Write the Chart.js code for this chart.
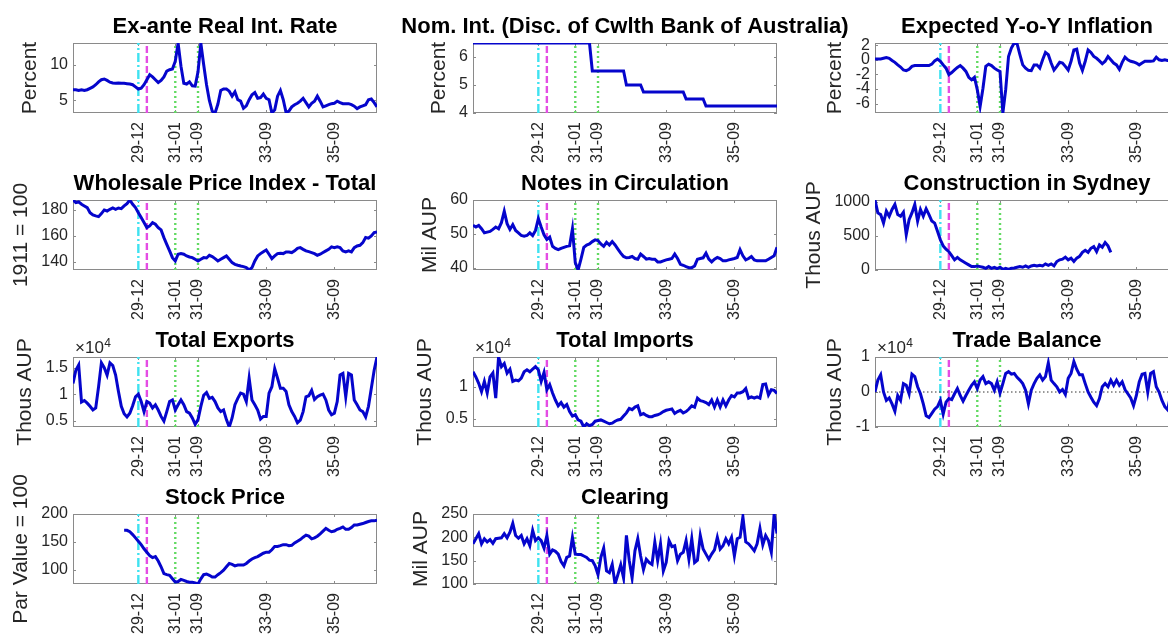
<!DOCTYPE html>
<html><head><meta charset="utf-8">
<script src="https://cdn.jsdelivr.net/npm/chart.js@4.4.0/dist/chart.umd.min.js"></script>
<style>
html,body{margin:0;padding:0;width:1168px;height:635px;overflow:hidden;background:#fff;position:relative}
canvas{position:absolute}
</style></head><body>
<script>
// ---- x axis (monthly, 1928-01 .. 1936-12, index 0..107) ----
const tickIdx = [23, 36, 44, 68, 92];
const tickLabels = ['29-12', '31-01', '31-09', '33-09', '35-09'];
const eventIdx = [23, 26, 36, 44];

// ---- series ----
const realRate = [6.5,6.5,6.4,6.5,6.4,6.5,6.7,6.9,7.2,7.6,7.9,8.0,
7.8,7.55,7.45,7.4,7.45,7.4,7.4,7.35,7.3,7.2,6.9,6.6,
6.7,7.2,7.9,8.6,8.3,7.9,7.5,7.8,8.3,9.1,9.3,9.4,
10.5,13.0,9.8,7.4,7.3,7.6,7.05,7.0,9.0,13.0,10.0,7.2,
5.0,3.5,3.24,4.5,6.4,6.6,6.6,6.3,5.6,6.2,5.1,4.9,
3.9,4.25,5.1,5.8,6.1,5.3,5.4,5.9,5.3,5.1,3.24,3.7,
5.6,6.4,5.1,3.3,3.5,4.1,4.4,4.6,4.9,5.3,4.7,4.1,
4.6,4.9,5.6,4.9,4.1,4.25,4.4,4.55,4.6,4.9,4.7,4.55,
4.55,4.55,4.4,4.2,3.85,4.1,4.25,4.4,5.1,5.2,4.7,4.1];

const nomRate = [6.5,6.5,6.5,6.5,6.5,6.5,6.5,6.5,6.5,6.5,6.5,6.5,
6.5,6.5,6.5,6.5,6.5,6.5,6.5,6.5,6.5,6.5,6.5,6.5,
6.5,6.5,6.5,6.5,6.5,6.5,6.5,6.5,6.5,6.5,6.5,6.5,
6.5,6.5,6.5,6.5,6.5,6.5,5.5,5.5,5.5,5.5,5.5,5.5,
5.5,5.5,5.5,5.5,5.5,5.5,5,5,5,5,5,5,
4.75,4.75,4.75,4.75,4.75,4.75,4.75,4.75,4.75,4.75,4.75,4.75,
4.75,4.75,4.75,4.5,4.5,4.5,4.5,4.5,4.5,4.5,4.25,4.25,
4.25,4.25,4.25,4.25,4.25,4.25,4.25,4.25,4.25,4.25,4.25,4.25,
4.25,4.25,4.25,4.25,4.25,4.25,4.25,4.25,4.25,4.25,4.25,4.25];

const expInfl = [0.1,0.1,0.1,0.2,0.3,0.2,-0.1,-0.35,-0.7,-1.0,-1.4,-1.5,
-1.3,-0.9,-0.8,-0.8,-0.8,-0.8,-0.8,-0.8,-0.6,-0.15,0.1,-0.2,
-0.7,-1.15,-2.05,-1.75,-1.4,-1.05,-0.8,-1.15,-1.6,-2.4,-2.75,-2.4,
-4.1,-6.4,-3.9,-0.9,-0.6,-0.8,-1.15,-1.4,-1.6,-7.3,-4.1,0.45,
1.6,2.3,2.2,0.7,-0.7,-1.15,-1.45,-1.5,-0.7,-0.7,-1.15,0,
1.0,0.7,-0.45,-1.4,-0.9,-0.35,-0.45,-0.9,-1.4,-0.2,1.35,1.45,
-0.45,-1.45,-0.2,1.35,1.0,0.45,0.2,-0.15,-0.55,-0.2,0.45,0,
-0.45,-0.7,-1.3,-0.35,0.35,0,-0.2,-0.3,-0.45,-0.7,-0.45,-0.2,
-0.2,-0.2,-0.15,0.35,0,-0.1,0,-0.1,-0.1,0,0.1,0];

const wpi = [187.7,185.7,186.2,184.4,183.1,181.8,177.9,176.1,175.4,174.8,177.2,180,
179.2,180.5,181.5,180.5,181.5,181,183.1,184.9,187.7,184.4,181.8,177.9,
174.1,170.2,166.3,167.6,170.2,168.9,166.3,164.5,158.6,153.4,148.3,143.1,
140.5,145.7,146.2,145.7,144.4,143.6,143.1,141.8,140.5,141.8,143.1,142.8,
144.9,143.9,142.3,140.5,141.8,143.1,144.4,141.8,139.2,137.9,137.2,136.6,
136.1,135.4,133.5,135.4,140.5,144.4,146.2,147.7,149,145.7,142.3,144.4,
146.2,146.5,146.2,147.5,147.5,147,148.3,150.3,150.8,149.5,148.3,147.7,
147,146.2,144.9,145.7,147,148.3,149.5,151.4,150.8,151.4,150.8,148.3,
147.5,148.3,147.5,150.8,152.1,152.6,154.7,158.6,158.1,159.9,162.5,163];

const notes = [52.5,52,52.5,51.5,50.3,50.5,50.7,51.3,52,51.5,53.3,56.7,
53,51.3,52.7,51,50.3,49.5,49.3,49.5,50.3,49.5,51,54.5,
52,49.7,48.3,49,46.3,45.7,45.3,45.7,46,46.3,46.5,51.5,
41.5,39.3,42.5,46,46.7,47,47.7,48.2,48,47,46.3,47.5,
46.7,47.7,46.7,45.5,44.3,43.3,42.9,43,43.3,42.7,42.5,44,
43.3,42.5,42.7,42.5,42.5,41.7,41.7,42,42.3,42.5,42.7,44,
42.7,41,40.7,40.3,40,40,40.5,42.5,42.7,42.9,44.3,42.5,
41.7,42.5,43,42.7,42,42,42.3,42.5,42.7,43,45.3,43.5,
42.3,42.7,43.3,42.3,42,42,42,42,42.5,43,43.5,46];

const construction = [1030,840,815,690,865,790,890,965,815,790,850,520,
740,840,965,720,890,790,900,815,720,690,570,445,
355,305,270,210,150,185,150,125,100,75,50,50,
60,50,40,25,50,25,40,20,40,10,25,10,
25,30,40,50,40,60,40,60,70,60,70,60,
90,70,90,60,125,150,160,190,150,175,125,175,
200,260,290,260,320,345,270,370,335,405,355,260,
null,null,null,null,null,null,null,null,null,null,null,null,
null,null,null,null,null,null,null,null,null,null,null,null];

const exportsData = [12000,14500,15500,8500,8800,8300,7700,7000,7400,11400,15900,15000,
13600,15900,15400,13600,10500,7700,6300,5700,6400,7800,9500,10000,
8600,6700,8600,8300,7400,8000,7000,5800,4900,6700,8600,8900,
7000,8000,8900,8000,6700,6400,5500,4300,5200,7700,9800,10300,
9200,9400,8600,7400,6700,7000,5200,3800,5500,8000,9200,10200,
10000,8600,13000,8900,8000,7000,5300,5800,5800,10200,11400,14800,
13000,11100,11100,10500,8000,6700,5800,4600,5100,6700,9500,9700,
10700,9000,9500,9800,10000,8900,7000,6100,6400,8600,13600,13900,
9500,13900,13600,8900,8000,7000,6700,5700,7700,11100,14500,17000];

const importsData = [12300,11500,10500,9200,10800,9000,11500,12100,8200,14600,13100,13600,
12100,12700,10800,11000,10900,11300,12300,12600,12300,12700,13100,12600,
10800,12200,9500,10300,9000,7900,7000,7500,6800,7200,6100,5400,
5600,4800,4600,3700,4200,3900,4100,4600,4700,4800,4600,4400,
4200,4300,4600,4800,4900,5400,5900,6600,6400,6800,7000,5600,
5800,5500,5300,5300,5500,5600,5800,6100,6300,6400,6500,5800,
6100,6300,5900,6100,6500,7000,6800,8200,7800,7700,7500,7200,
7900,6800,7900,6800,7900,7000,7900,8600,8400,9000,9000,9200,
9700,8200,8400,8200,8400,8200,10300,10400,8700,9500,9400,8900];

const tradeBal = [0,3400,4900,0,-2400,-1700,-3400,-5500,-1000,-2400,2400,1900,
-500,5100,4400,1500,-500,-3400,-6800,-7300,-6100,-4900,-4200,-2400,
-6300,-2900,-1900,-2200,-500,1000,-1000,-2600,-1000,500,1900,2900,
1000,3400,4400,2400,2900,2400,500,2900,-300,2400,5300,5800,
5100,5300,4200,3400,2400,500,-3400,500,2400,3900,4900,3400,
4400,8300,3400,2400,1500,0,700,-700,3900,5300,8700,6500,
4900,4900,2400,0,-1500,-2900,-3900,-1900,1500,2400,1500,3400,
1900,3400,1900,2900,700,-500,-1700,-3900,-1000,2900,5100,5300,
0,5300,5800,1500,0,-2400,-4200,-5100,-1000,1600,5100,8100];

const stock = [null,null,null,null,null,null,null,null,null,null,null,null,
null,null,null,null,null,null,170.6,170.6,168,163,157,151,
145,137.4,131.3,125,121.5,123.3,115.3,105,92.6,90.8,89.6,83.4,
77.3,78.5,82.2,80.4,78.5,77.3,77.3,76,74,83.4,90.8,92,
89.6,86.5,86.5,90.8,94.5,98.8,105,111,109.2,106.7,108,108,
108,111,115.3,119,121.5,123.3,126.4,129.4,131.3,131.3,135.6,141.7,
141.7,143,144.8,144.8,143,143.6,147.9,151,154,158.3,162,160.1,
155.2,157,160.1,164.4,169.3,174.2,170.6,168,169.3,172.4,174.2,176.7,
172.4,172.4,175.5,180.4,180.4,181.6,182.8,184.7,186.5,187.7,187.7,189];

const clearing = [186,197,208,186,197,190,195,187,197,198,199,208,
199,211,230,204,198,204,186,197,182,215,193,199,
193,177,204,164,173,170,164,148,139,157,160,200,
164,163,163,160,157,151,150,139,120,157,177,128,
124,142,100,120,141,113,204,150,113,171,197,160,
131,153,146,142,190,150,186,128,146,193,180,182,
150,164,168,193,153,197,146,151,204,175,164,153,
164,173,200,175,182,197,186,200,160,197,200,244,
190,186,179,171,186,219,184,204,193,168,250,208];

// ---- layout / style ----
const FAMILY = "'Liberation Sans', Arial, Helvetica, sans-serif";
Chart.defaults.font.family = FAMILY;
Chart.defaults.color = '#262626';
const PW = 304, PH = 70;
const colLeft = [73, 473, 875];
const rowTop = [43, 200, 357, 514];
const BLUE = '#0505cc';
const eventColor = ['#3fe2f0', '#e44ce4', '#62da62', '#62da62'];
const eventDash = [[9, 3, 2, 3], [7, 3], [2, 3], [2, 3]];

const panels = [
  {title:'Ex-ante Real Int. Rate', ylabel:'Percent', data:realRate, ymin:3.24, ymax:13.04, yticks:[5,10], col:0, row:0},
  {title:'Nom. Int. (Disc. of Cwlth Bank of Australia)', ylabel:'Percent', data:nomRate, ymin:4, ymax:6.5, yticks:[4,5,6], col:1, row:0},
  {title:'Expected Y-o-Y Inflation', ylabel:'Percent', data:expInfl, ymin:-7.3, ymax:2.3, yticks:[-6,-4,-2,0,2], col:2, row:0},
  {title:'Wholesale Price Index - Total', ylabel:'1911 = 100', data:wpi, ymin:133.5, ymax:187.7, yticks:[140,160,180], col:0, row:1},
  {title:'Notes in Circulation', ylabel:'Mil AUP', data:notes, ymin:39.3, ymax:60, yticks:[40,50,60], col:1, row:1},
  {title:'Construction in Sydney', ylabel:'Thous AUP', data:construction, ymin:0, ymax:1030, yticks:[0,500,1000], col:2, row:1},
  {title:'Total Exports', ylabel:'Thous AUP', data:exportsData, ymin:3800, ymax:17000, yticks:[5000,10000,15000], col:0, row:2, exp:true},
  {title:'Total Imports', ylabel:'Thous AUP', data:importsData, ymin:3700, ymax:14600, yticks:[5000,10000], col:1, row:2, exp:true},
  {title:'Trade Balance', ylabel:'Thous AUP', data:tradeBal, ymin:-10000, ymax:10000, yticks:[-10000,0,10000], col:2, row:2, exp:true, zero:true},
  {title:'Stock Price', ylabel:'Par Value = 100', data:stock, ymin:74, ymax:200, yticks:[100,150,200], col:0, row:3},
  {title:'Clearing', ylabel:'Mil AUP', data:clearing, ymin:100, ymax:250, yticks:[100,150,200,250], col:1, row:3}
];

function decor(p) {
  return {
    id: 'decor',
    beforeDatasetsDraw(chart) {
      const {ctx, chartArea: a} = chart;
      const xs = chart.scales.x, ys = chart.scales.y;
      ctx.save();
      ctx.strokeStyle = '#8a8a8a';
      ctx.lineWidth = 1;
      ctx.strokeRect(a.left + 0.5, a.top + 0.5, a.right - a.left - 1, a.bottom - a.top - 1);
      ctx.beginPath();
      xs.ticks.forEach(t => {
        const px = Math.round(xs.getPixelForValue(t.value)) + 0.5;
        ctx.moveTo(px, a.bottom); ctx.lineTo(px, a.bottom - 3);
        ctx.moveTo(px, a.top); ctx.lineTo(px, a.top + 3);
      });
      ys.ticks.forEach(t => {
        const py = Math.round(ys.getPixelForValue(t.value)) + 0.5;
        ctx.moveTo(a.left, py); ctx.lineTo(a.left + 3, py);
        ctx.moveTo(a.right, py); ctx.lineTo(a.right - 3, py);
      });
      ctx.stroke();
      ctx.restore();
    },
    afterDraw(chart) {
      const {ctx, chartArea: a} = chart;
      ctx.save();
      ctx.fillStyle = '#000';
      ctx.font = 'bold 22px ' + FAMILY;
      ctx.textAlign = 'center';
      ctx.textBaseline = 'alphabetic';
      ctx.fillText(p.title, (a.left + a.right) / 2, a.top - 10);
      if (p.exp) {
        ctx.fillStyle = '#262626';
        ctx.textAlign = 'left';
        ctx.font = '17px ' + FAMILY;
        const base = '\u00d710';
        ctx.fillText(base, a.left + 2, a.top - 4);
        const w = ctx.measureText(base).width;
        ctx.font = '12px ' + FAMILY;
        ctx.fillText('4', a.left + 2 + w + 0.5, a.top - 10);
      }
      ctx.restore();
    }
  };
}

function makeConfig(p) {
  const datasets = [{
    data: p.data.map((v, i) => ({x: i, y: v})),
    borderColor: BLUE, borderWidth: 3, pointRadius: 0, tension: 0, spanGaps: false
  }];
  if (p.zero) {
    datasets.push({data: [{x: 0, y: 0}, {x: 107, y: 0}], borderColor: '#333', borderWidth: 1,
      borderDash: [1.5, 2.5], pointRadius: 0});
  }
  eventIdx.forEach((e, k) => {
    datasets.push({data: [{x: e, y: p.ymin}, {x: e, y: p.ymax}], borderColor: eventColor[k],
      borderWidth: 2.4, borderDash: eventDash[k], pointRadius: 0});
  });
  const fmt = v => p.exp ? String(v / 10000) : String(v);
  return {
    type: 'line',
    data: {datasets},
    options: {
      responsive: false, maintainAspectRatio: false, animation: false, devicePixelRatio: 1,
      events: [],
      layout: {padding: {top: 40, right: 100, bottom: 4, left: 90}},
      plugins: {legend: {display: false}, tooltip: {enabled: false}, title: {display: false}},
      scales: {
        x: {
          type: 'linear', min: 0, max: 107, bounds: 'data',
          afterBuildTicks: s => { s.ticks = tickIdx.map(v => ({value: v})); },
          afterFit: s => { s.height = Math.ceil(s.height); },
          grid: {display: false, drawTicks: false}, border: {display: false},
          ticks: {autoSkip: false, minRotation: 90, maxRotation: 90, padding: 9,
            font: {size: 16}, color: '#262626',
            callback: v => tickLabels[tickIdx.indexOf(v)]}
        },
        y: {
          type: 'linear', min: p.ymin, max: p.ymax, bounds: 'data',
          afterBuildTicks: s => { s.ticks = p.yticks.map(v => ({value: v})); },
          afterFit: s => { s.width = Math.ceil(s.width); },
          grid: {display: false, drawTicks: false}, border: {display: false},
          ticks: {autoSkip: false, padding: 5, font: {size: 16}, color: '#262626', callback: fmt},
          title: {display: true, text: p.ylabel, color: '#262626',
            font: {size: 21, lineHeight: '24px'}, padding: {top: 0, bottom: 3}}
        }
      }
    },
    plugins: [decor(p)]
  };
}

function build(p) {
  const cv = document.createElement('canvas');
  document.body.appendChild(cv);
  cv.width = 700; cv.height = 320;
  let ch = new Chart(cv, makeConfig(p));
  const a = ch.chartArea;
  const w = 700 + PW - Math.round(a.right - a.left);
  const h = 320 + PH - Math.round(a.bottom - a.top);
  ch.destroy();
  cv.width = w; cv.height = h;
  ch = new Chart(cv, makeConfig(p));
  const b = ch.chartArea;
  cv.style.left = Math.round(colLeft[p.col] - b.left) + 'px';
  cv.style.top = Math.round(rowTop[p.row] - b.top) + 'px';
}

panels.forEach(build);
</script>
</body></html>
